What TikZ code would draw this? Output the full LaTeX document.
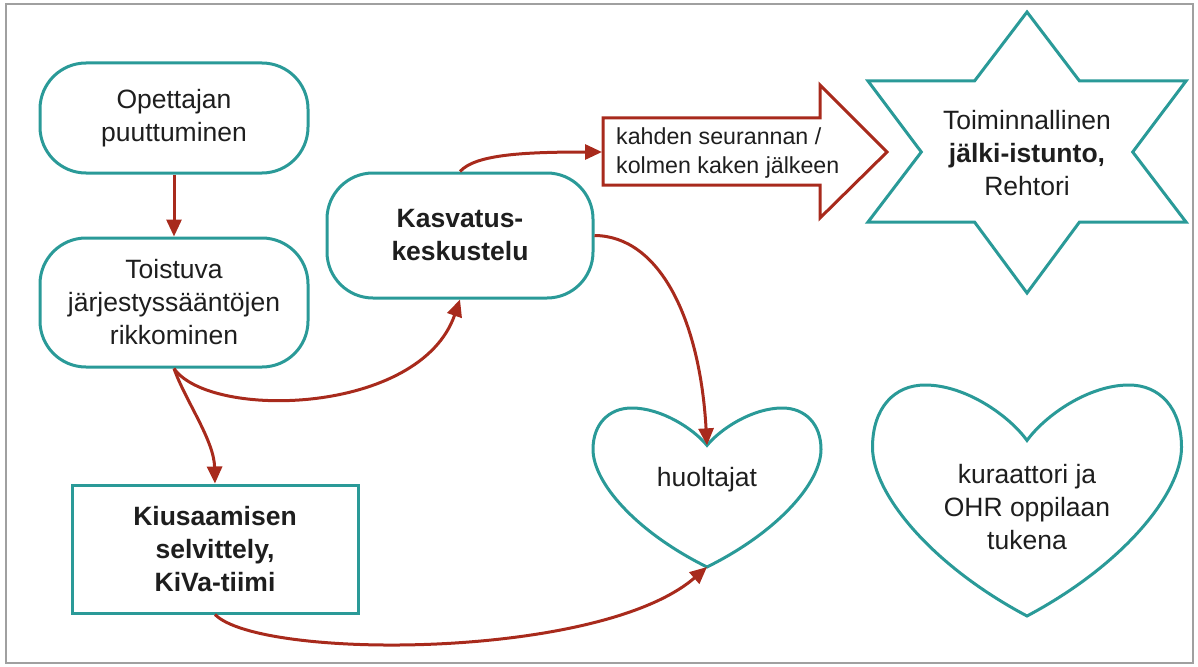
\documentclass[tikz,border=0pt]{standalone}
\usepackage{fontspec}
\setmainfont{Liberation Sans}
\usetikzlibrary{arrows.meta}
\definecolor{tealone}{HTML}{2A9A98}
\definecolor{redone}{HTML}{A82A1C}
\definecolor{txtc}{HTML}{1E1E1E}
\definecolor{framec}{HTML}{A0A0A0}
\begin{document}
\begin{tikzpicture}[x=1pt,y=-1pt,
  box/.style={draw=tealone, line width=3pt, text=txtc, align=center,
              font=\fontsize{26.5}{33}\selectfont, inner sep=0pt},
  rbox/.style={box, rounded corners=46pt},
  boldtxt/.style={font=\fontsize{26.5}{33}\selectfont\bfseries},
  plain/.style={text=txtc, align=center, font=\fontsize{26.5}{33}\selectfont, inner sep=0pt},
  outline/.style={draw=tealone, line width=3pt, line join=miter},
  conn/.style={draw=redone, line width=3pt, -{Triangle[length=17pt,width=15pt]}},
]
\useasboundingbox (0,0) rectangle (1198,666);
\draw[draw=framec, line width=2.5pt] (6,4) rectangle (1193,663);

% boxes
\node[rbox, minimum width=268pt, minimum height=110pt] (op) at (174,118) {Opettajan\\puuttuminen};
\node[rbox, minimum width=268pt, minimum height=129pt] (to) at (174,302.5) {Toistuva\\järjestyssääntöjen\\rikkominen};
\node[rbox, boldtxt, minimum width=266pt, minimum height=125pt] (ka) at (460,235.5) {Kasvatus-\\keskustelu};
\node[box, boldtxt, minimum width=286pt, minimum height=128pt] (ki) at (215,549) {Kiusaamisen\\selvittely,\\KiVa-tiimi};

% big arrow shape
\draw[draw=redone, line width=3pt, line join=miter]
  (603,118) -- (820,118) -- (820,85) -- (887,152) -- (820,218) -- (820,185) -- (603,185) -- cycle;
\coordinate (arin) at (602,152);
\node[text=txtc, align=left, anchor=west, inner sep=0pt,
      font=\fontsize{23.2}{29}\selectfont] (art) at (616,153) {kahden seurannan /\\kolmen kaken jälkeen};

% star
\draw[outline] (1027,12) -- (1079.5,81) -- (1186,81) -- (1132.7,152) -- (1186,222)
  -- (1079.5,222) -- (1027,293) -- (974.5,222) -- (868,222) -- (921.3,152)
  -- (868,81) -- (974.5,81) -- cycle;
\node[plain] (st) at (1027,153) {Toiminnallinen\\\textbf{jälki-istunto,}\\Rehtori};

% heart 1
\begin{scope}[shift={(707,408)}, x=114pt, y=-159pt]
  \draw[outline] (0,0.235) .. controls (-0.12,0.13) and (-0.4,0) .. (-0.66,0)
    .. controls (-0.86,0) and (-1,0.1) .. (-1,0.26)
    .. controls (-1,0.47) and (-0.62,0.78) .. (0,1)
    .. controls (0.62,0.78) and (1,0.47) .. (1,0.26)
    .. controls (1,0.1) and (0.86,0) .. (0.66,0)
    .. controls (0.4,0) and (0.12,0.13) .. cycle;
  \coordinate (hudip) at (0,0.235);
  \coordinate (hutip) at (0,1);
\end{scope}
\node[plain] (hu) at (707,480) {huoltajat};

% heart 2
\begin{scope}[shift={(1027,385)}, x=154.5pt, y=-231pt]
  \draw[outline] (0,0.24) .. controls (-0.12,0.13) and (-0.4,0) .. (-0.66,0)
    .. controls (-0.86,0) and (-1,0.1) .. (-1,0.27)
    .. controls (-1,0.47) and (-0.62,0.78) .. (0,1)
    .. controls (0.62,0.78) and (1,0.47) .. (1,0.27)
    .. controls (1,0.1) and (0.86,0) .. (0.66,0)
    .. controls (0.4,0) and (0.12,0.13) .. cycle;
\end{scope}
\node[plain] (ku) at (1027,507) {kuraattori ja\\OHR oppilaan\\tukena};

% connectors
\draw[conn] (op) -- (to);
\draw[conn] (to.south) .. controls (210,420) and (420,415) .. (ka.south);
\draw[conn] (to.south) .. controls (185,400) and (214,440) .. (ki.north);
\draw[conn] (ki.south) .. controls (260,660) and (600,660) .. (hutip);
\draw[conn] (ka.north) .. controls (475,155) and (520,152) .. (arin);
\draw[conn] (ka.east) .. controls (660,236) and (700,320) .. (hudip);
\end{tikzpicture}
\end{document}
